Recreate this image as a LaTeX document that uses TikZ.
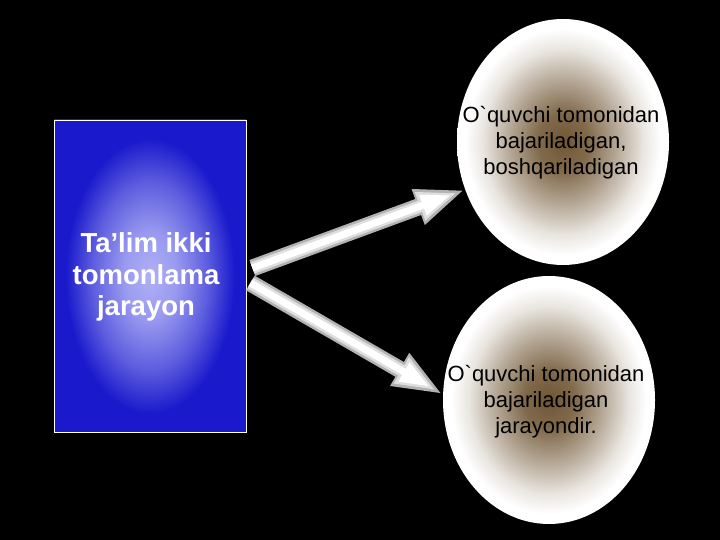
\documentclass[tikz,border=0pt]{standalone}
\usepackage{fontspec}
\setmainfont{Liberation Sans}[Ligatures=TeXOff]
\usepackage{tikz}
\usetikzlibrary{arrows.meta,shapes.geometric,positioning}
\definecolor{boxlight}{RGB}{176,176,246}
\definecolor{boxdark}{RGB}{26,26,204}
\definecolor{eggbrown}{RGB}{112,86,52}
\pgfdeclareradialshading{boxshade}{\pgfpoint{0bp}{0bp}}{color(0bp)=(boxlight); color(7bp)=(boxlight!85!boxdark); color(15bp)=(boxlight!45!boxdark); color(22bp)=(boxdark); color(50bp)=(boxdark)}
\pgfdeclareradialshading{eggshade}{\pgfpoint{0bp}{0bp}}{color(0bp)=(eggbrown); color(6bp)=(eggbrown!88!white); color(13bp)=(eggbrown!50!white); color(19bp)=(eggbrown!15!white); color(23bp)=(white); color(50bp)=(white)}
\tikzstyle{box}=[rectangle, draw=white, line width=0.8pt, minimum width=192pt, minimum height=312pt, inner sep=0pt, shading=boxshade]
\tikzstyle{boxtext}=[align=center, text=white, font=\bfseries\fontsize{27.5}{31.5}\selectfont]
\tikzstyle{egg}=[ellipse, inner sep=0pt, shading=eggshade]
\tikzstyle{eggtext}=[align=center, text=black, font=\fontsize{22}{26}\selectfont]
\tikzstyle{arrowrim}=[line width=17pt, draw=gray!60, -{Triangle[width=34pt,length=50pt]}]
\tikzstyle{arrowmid}=[line width=12pt, draw=gray!25, shorten >=8pt, -{Triangle[width=27pt,length=40pt]}]
\tikzstyle{arrowcore}=[line width=7pt, draw=white, shorten >=15pt, -{Triangle[width=20pt,length=30pt]}]

\begin{document}
\begin{tikzpicture}[x=1pt,y=1pt]
    \fill[black] (0,0) rectangle (720,540);
    \useasboundingbox (0,0) rectangle (720,540);

    \node (box) [box] at (150,264) {};
    \node (boxtext) [boxtext] at (146,263) {Ta’lim ikki\\tomonlama\\jarayon};
    \node (top) [egg, minimum width=212pt, minimum height=246pt] at (563,398) {};
    \node (bottom) [egg, minimum width=212pt, minimum height=248pt] at (549,140) {};
    \node (toptext) [eggtext] at (561,397) {O`quvchi tomonidan\\bajariladigan,\\boshqariladigan};
    \node (bottomtext) [eggtext] at (546,138) {O`quvchi tomonidan\\bajariladigan\\jarayondir.};

    \draw[arrowrim] ([xshift=6pt,yshift=8pt]box.east) -- (top.206);
    \draw[arrowmid] ([xshift=6pt,yshift=8pt]box.east) -- (top.206);
    \draw[arrowcore] ([xshift=6pt,yshift=8pt]box.east) -- (top.206);
    \draw[arrowrim] ([xshift=4pt,yshift=-7pt]box.east) -- (bottom.177);
    \draw[arrowmid] ([xshift=4pt,yshift=-7pt]box.east) -- (bottom.177);
    \draw[arrowcore] ([xshift=4pt,yshift=-7pt]box.east) -- (bottom.177);
\end{tikzpicture}
\end{document}
